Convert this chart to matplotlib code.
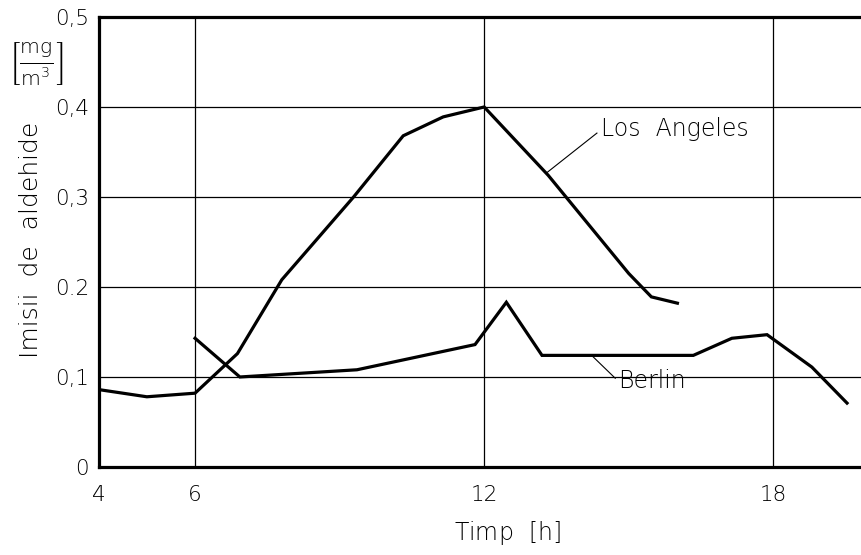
import matplotlib
matplotlib.use('Agg')
import matplotlib.pyplot as plt

plt.rcParams['font.family'] = ['DejaVu Sans']
plt.rcParams['font.weight'] = 'light'
plt.rcParams['mathtext.fontset'] = 'dejavusans'

# Los Angeles curve (hour, mg/m3)
la_hours = [4.0, 5.0, 6.0, 6.88, 7.80, 9.29, 10.32, 11.15, 12.0, 13.33, 15.0, 15.47, 16.01]
la_values = [0.086, 0.078, 0.082, 0.126, 0.208, 0.300, 0.368, 0.389, 0.400, 0.324, 0.215, 0.189, 0.182]

# Berlin curve
berlin_hours = [6.0, 6.93, 9.36, 11.81, 12.46, 13.2, 16.34, 17.14, 17.87, 18.80, 19.53]
berlin_values = [0.143, 0.100, 0.108, 0.136, 0.183, 0.124, 0.124, 0.143, 0.147, 0.111, 0.071]

x_ticks = [4, 6, 12, 18]
y_ticks = [0, 0.1, 0.2, 0.3, 0.4, 0.5]
y_tick_labels = ['0', '0,1', '0.2', '0,3', '0,4', '0,5']

fig = plt.figure(figsize=(8.61, 5.55), dpi=100)
ax = fig.add_axes([0.1146, 0.1586, 1 - 0.1146, 0.8108])

# grid
for yv in [0.1, 0.2, 0.3, 0.4]:
    ax.axhline(yv, color='black', lw=0.9, zorder=1)
for xv in [6, 12, 18]:
    ax.axvline(xv, color='black', lw=0.9, zorder=1)

ax.plot(la_hours, la_values, color='black', lw=2.3, solid_joinstyle='miter', zorder=3)
ax.plot(berlin_hours, berlin_values, color='black', lw=2.3, solid_joinstyle='miter', zorder=3)

# labels with leader lines
ax.plot([14.34, 13.30], [0.371, 0.327], color='black', lw=0.8)
ax.text(14.42, 0.376, 'Los  Angeles', fontsize=17, va='center', ha='left')
ax.plot([14.72, 14.23], [0.0986, 0.124], color='black', lw=0.8)
ax.text(14.78, 0.096, 'Berlin', fontsize=17, va='center', ha='left')

ax.set_xlim(4, 19.82)
ax.set_ylim(0, 0.5)
ax.set_xticks(x_ticks)
ax.set_xticklabels([str(t) for t in x_ticks])
ax.set_yticks(y_ticks)
ax.set_yticklabels(y_tick_labels)
ax.tick_params(axis='both', length=0, labelsize=15.5)
ax.tick_params(axis='x', pad=13)
ax.tick_params(axis='y', pad=7)

for side in ['left', 'top', 'bottom']:
    ax.spines[side].set_linewidth(2.3)
ax.spines['right'].set_visible(False)

fig.text(0.036, 0.567, 'Imisii  de  aldehide', rotation=90, fontsize=18,
         ha='center', va='center')
fig.text(0.042, 0.885, r'$\left[\frac{\mathrm{mg}}{\mathrm{m}^3}\right]$', fontsize=21,
         ha='center', va='center')
fig.text(0.589, 0.04, r'Timp  $\left[\mathrm{h}\right]$', fontsize=17,
         ha='center', va='center')

fig.savefig('out.png', dpi=100)
